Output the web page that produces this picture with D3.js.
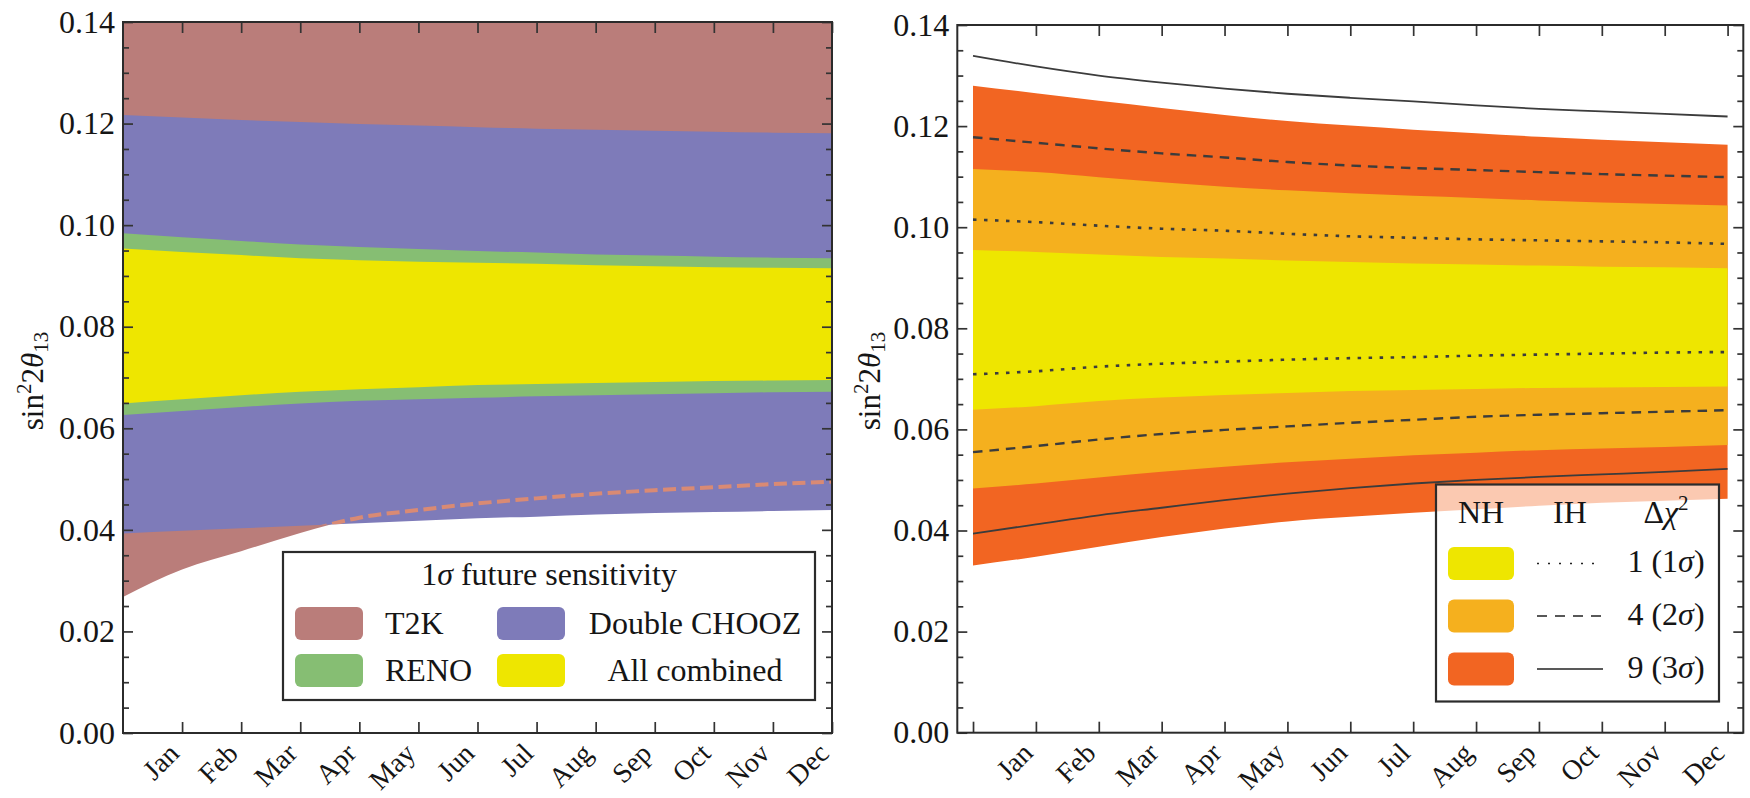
<!DOCTYPE html>
<html>
<head>
<meta charset="utf-8">
<script src="https://cdn.jsdelivr.net/npm/d3@7"></script>
<style>
  body { margin: 0; background: #fff; }
  svg { display: block; font-family: "Liberation Serif", "Times New Roman", serif; }
</style>
</head>
<body>
<svg id="chart" width="1750" height="798"></svg>
<script>
// ---------- data ----------
const monthNames = ["Jan", "Feb", "Mar", "Apr", "May", "Jun", "Jul", "Aug", "Sep", "Oct", "Nov", "Dec"];
const sampleMonths = [0, 1, 2, 3, 4, 5, 6, 7, 8, 9, 10, 11, 12];
const yTickValues = [0, 0.02, 0.04, 0.06, 0.08, 0.10, 0.12, 0.14];

// left panel: 1 sigma future sensitivity bands
const t2kLower  = [0.0268, 0.0322, 0.0358, 0.0394, 0.0424, 0.0439, 0.0452, 0.0462, 0.0471, 0.0478, 0.0484, 0.0490, 0.0495];
const dcUpper   = [0.1217, 0.1212, 0.1207, 0.1203, 0.1199, 0.1196, 0.1193, 0.1190, 0.1188, 0.1186, 0.1184, 0.1182, 0.1181];
const dcLower   = [0.0393, 0.0398, 0.0403, 0.0408, 0.0413, 0.0418, 0.0423, 0.0426, 0.0430, 0.0433, 0.0435, 0.0437, 0.0439];
const renoUpper = [0.0984, 0.0976, 0.0969, 0.0962, 0.0957, 0.0953, 0.0949, 0.0946, 0.0942, 0.0940, 0.0938, 0.0936, 0.0935];
const renoLower = [0.0626, 0.0634, 0.0642, 0.0649, 0.0654, 0.0657, 0.0660, 0.0663, 0.0665, 0.0667, 0.0669, 0.0671, 0.0672];
const combUpper = [0.0954, 0.0947, 0.0941, 0.0935, 0.0931, 0.0928, 0.0926, 0.0924, 0.0921, 0.0919, 0.0917, 0.0916, 0.0915];
const combLower = [0.0649, 0.0657, 0.0665, 0.0672, 0.0677, 0.0681, 0.0685, 0.0687, 0.0689, 0.0691, 0.0693, 0.0694, 0.0695];

// right panel: normal hierarchy bands
const nh1Upper = [0.0955, 0.0951, 0.0946, 0.0941, 0.0938, 0.0934, 0.0931, 0.0928, 0.0926, 0.0924, 0.0922, 0.0921, 0.0919];
const nh1Lower = [0.0639, 0.0646, 0.0656, 0.0663, 0.0668, 0.0672, 0.0676, 0.0678, 0.0680, 0.0682, 0.0683, 0.0684, 0.0685];
const nh2Upper = [0.1115, 0.1109, 0.1099, 0.1089, 0.1080, 0.1073, 0.1067, 0.1062, 0.1058, 0.1053, 0.1049, 0.1046, 0.1043];
const nh2Lower = [0.0483, 0.0493, 0.0505, 0.0516, 0.0526, 0.0535, 0.0542, 0.0549, 0.0554, 0.0559, 0.0562, 0.0565, 0.0569];
const nh3Upper = [0.1280, 0.1265, 0.1250, 0.1236, 0.1222, 0.1210, 0.1201, 0.1193, 0.1186, 0.1179, 0.1173, 0.1168, 0.1163];
const nh3Lower = [0.0331, 0.0348, 0.0368, 0.0387, 0.0404, 0.0418, 0.0427, 0.0435, 0.0442, 0.0449, 0.0455, 0.0459, 0.0463];

// right panel: inverted hierarchy contours
const ih1Upper = [0.1015, 0.1010, 0.1003, 0.0997, 0.0993, 0.0987, 0.0982, 0.0979, 0.0976, 0.0974, 0.0972, 0.0970, 0.0967];
const ih1Lower = [0.0709, 0.0715, 0.0724, 0.0730, 0.0734, 0.0738, 0.0741, 0.0743, 0.0746, 0.0748, 0.0750, 0.0752, 0.0753];
const ih2Upper = [0.1178, 0.1167, 0.1156, 0.1146, 0.1138, 0.1129, 0.1122, 0.1117, 0.1113, 0.1109, 0.1105, 0.1102, 0.1099];
const ih2Lower = [0.0555, 0.0567, 0.0580, 0.0591, 0.0599, 0.0606, 0.0613, 0.0619, 0.0625, 0.0629, 0.0632, 0.0635, 0.0638];
const ih3Upper = [0.1339, 0.1318, 0.1300, 0.1286, 0.1274, 0.1264, 0.1256, 0.1249, 0.1241, 0.1234, 0.1229, 0.1224, 0.1219];
const ih3Lower = [0.0394, 0.0412, 0.0430, 0.0445, 0.0460, 0.0473, 0.0484, 0.0493, 0.0500, 0.0506, 0.0511, 0.0516, 0.0522];

// ---------- styling ----------
const C = {
  t2k: "#ba7d7a", dc: "#7e7bb9", reno: "#86be73", comb: "#eee600",
  nh1: "#eee600", nh2: "#f5b01e", nh3: "#f26522",
  t2kDash: "#d98a74", ih: "#3c3c3c", frame: "#2b2b2b"
};

const svg = d3.select("#chart");

const xL = d3.scaleLinear().domain([0, 12]).range([123, 832]);
const yL = d3.scaleLinear().domain([0, 0.14]).range([733, 22]);
const xR = d3.scaleLinear().domain([-0.25, 12.25]).range([957.3, 1743.3]);
const yR = d3.scaleLinear().domain([0, 0.14]).range([732.7, 25]);

function band(x, y, lower, upper) {
  return d3.area()
    .curve(d3.curveMonotoneX)
    .x((d, i) => x(sampleMonths[i]))
    .y0((d, i) => y(lower[i]))
    .y1((d, i) => y(typeof upper === "number" ? upper : upper[i]))(sampleMonths);
}
function curve(x, y, vals) {
  return d3.line()
    .curve(d3.curveMonotoneX)
    .x((d, i) => x(sampleMonths[i]))
    .y((d, i) => y(vals[i]))(sampleMonths);
}

const defs = svg.append("defs");
function plotClip(id, x, y) {
  defs.append("clipPath").attr("id", id).append("rect")
    .attr("x", x.range()[0]).attr("y", y.range()[1])
    .attr("width", x.range()[1] - x.range()[0])
    .attr("height", y.range()[0] - y.range()[1]);
}
plotClip("clipL", xL, yL);
plotClip("clipR", xR, yR);

// ---------- left panel ----------
const gL = svg.append("g").attr("clip-path", "url(#clipL)");
gL.append("path").attr("d", band(xL, yL, t2kLower, yL.domain()[1])).attr("fill", C.t2k);
gL.append("path").attr("d", band(xL, yL, dcLower, dcUpper)).attr("fill", C.dc);
// T2K lower edge shown dashed where it lies under the Double CHOOZ band
defs.append("clipPath").attr("id", "clipDC").append("path").attr("d", band(xL, yL, dcLower, dcUpper));
gL.append("g").attr("clip-path", "url(#clipDC)")
  .append("path").attr("d", curve(xL, yL, t2kLower))
  .attr("fill", "none").attr("stroke", C.t2kDash).attr("stroke-width", 4)
  .attr("stroke-dasharray", "13,5.5");
gL.append("path").attr("d", band(xL, yL, renoLower, renoUpper)).attr("fill", C.reno);
gL.append("path").attr("d", band(xL, yL, combLower, combUpper)).attr("fill", C.comb);

// ---------- right panel ----------
const gR = svg.append("g").attr("clip-path", "url(#clipR)");
gR.append("path").attr("d", band(xR, yR, nh3Lower, nh3Upper)).attr("fill", C.nh3);
gR.append("path").attr("d", band(xR, yR, nh2Lower, nh2Upper)).attr("fill", C.nh2);
gR.append("path").attr("d", band(xR, yR, nh1Lower, nh1Upper)).attr("fill", C.nh1);

const ihStyles = [
  { vals: [ih1Upper, ih1Lower], dash: "3.5,7.5", w: 2.6 },
  { vals: [ih2Upper, ih2Lower], dash: "9.5,7", w: 2.4 },
  { vals: [ih3Upper, ih3Lower], dash: null, w: 1.8 }
];
ihStyles.forEach(s => s.vals.forEach(v => {
  gR.append("path").attr("d", curve(xR, yR, v))
    .attr("fill", "none").attr("stroke", C.ih).attr("stroke-width", s.w)
    .attr("stroke-dasharray", s.dash);
}));

// ---------- axes and frames ----------
function axes(x, y, bottomTickValues) {
  const [x0, x1] = x.range();
  const [yb, yt] = y.range();
  const minor = d3.range(0.005, 0.14, 0.005).filter(v => Math.abs(v / 0.02 - Math.round(v / 0.02)) > 1e-6);
  const style = g => {
    g.select(".domain").remove();
    g.attr("font-family", null).attr("font-size", null);
    g.selectAll("line").attr("stroke", "#333").attr("stroke-width", 1.7);
    g.selectAll("text").attr("fill", "#151515").style("font-size", "32px");
  };
  svg.append("g").attr("transform", `translate(${x0},0)`)
    .call(d3.axisLeft(y).tickValues(yTickValues).tickSize(-10).tickPadding(8).tickFormat(d3.format(".2f"))).call(style);
  svg.append("g").attr("transform", `translate(${x0},0)`)
    .call(d3.axisLeft(y).tickValues(minor).tickSize(-6).tickFormat("")).call(style);
  svg.append("g").attr("transform", `translate(${x1},0)`)
    .call(d3.axisRight(y).tickValues(yTickValues).tickSize(-10).tickFormat("")).call(style);
  svg.append("g").attr("transform", `translate(${x1},0)`)
    .call(d3.axisRight(y).tickValues(minor).tickSize(-6).tickFormat("")).call(style);
  svg.append("g").attr("transform", `translate(0,${yt})`)
    .call(d3.axisTop(x).tickValues(sampleMonths.slice(1)).tickSize(-11).tickFormat("")).call(style);
  const bx = svg.append("g").attr("transform", `translate(0,${yb})`)
    .call(d3.axisBottom(x).tickValues(bottomTickValues).tickSize(-11)
      .tickFormat(m => monthNames[m - 1] || "")).call(style);
  bx.selectAll("text")
    .attr("x", 0).attr("y", 0).attr("dy", 0)
    .attr("text-anchor", "end")
    .attr("transform", "translate(-2,22) rotate(-45)")
    .style("font-size", "28px");
  svg.append("rect").attr("x", x0).attr("y", yt).attr("width", x1 - x0).attr("height", yb - yt)
    .attr("fill", "none").attr("stroke", C.frame).attr("stroke-width", 2);
}
axes(xL, yL, sampleMonths.slice(1));
axes(xR, yR, sampleMonths);

function yLabel(xPos, yPos) {
  const t = svg.append("text").attr("transform", `translate(${xPos},${yPos}) rotate(-90)`)
    .attr("text-anchor", "middle").attr("fill", "#151515").style("font-size", "31px");
  t.append("tspan").text("sin");
  t.append("tspan").attr("dy", -12).style("font-size", "21px").text("2");
  t.append("tspan").attr("dy", 12).text("2");
  t.append("tspan").style("font-style", "italic").text("θ");
  t.append("tspan").attr("dy", 5).style("font-size", "21px").text("13");
}
yLabel(43, 381);
yLabel(880, 381);

// ---------- legends ----------
const legL = svg.append("g");
legL.append("rect").attr("x", 283).attr("y", 552).attr("width", 532).attr("height", 148)
  .attr("fill", "#fff").attr("fill-opacity", 0.65).attr("stroke", C.frame).attr("stroke-width", 2.2);
const titleL = legL.append("text").attr("x", 549).attr("y", 585).attr("text-anchor", "middle")
  .attr("fill", "#151515").style("font-size", "32px");
titleL.append("tspan").text("1");
titleL.append("tspan").style("font-style", "italic").text("σ");
titleL.append("tspan").text(" future sensitivity");

const legLItems = [
  { name: "T2K", color: C.t2k, sx: 295, sy: 607, tx: 385, anchor: "start", ty: 634 },
  { name: "RENO", color: C.reno, sx: 295, sy: 654, tx: 385, anchor: "start", ty: 681 },
  { name: "Double CHOOZ", color: C.dc, sx: 497, sy: 607, tx: 695, anchor: "middle", ty: 634 },
  { name: "All combined", color: C.comb, sx: 497, sy: 654, tx: 695, anchor: "middle", ty: 681 }
];
legLItems.forEach(d => {
  legL.append("rect").attr("x", d.sx).attr("y", d.sy).attr("width", 68).attr("height", 33)
    .attr("rx", 6).attr("fill", d.color);
  legL.append("text").attr("x", d.tx).attr("y", d.ty).attr("text-anchor", d.anchor)
    .attr("fill", "#151515").style("font-size", "32px").text(d.name);
});

const legR = svg.append("g");
legR.append("rect").attr("x", 1436).attr("y", 484.5).attr("width", 283).attr("height", 217)
  .attr("fill", "#fff").attr("fill-opacity", 0.65).attr("stroke", C.frame).attr("stroke-width", 2.2);
legR.append("text").attr("x", 1481).attr("y", 523).attr("text-anchor", "middle")
  .attr("fill", "#151515").style("font-size", "32px").text("NH");
legR.append("text").attr("x", 1570).attr("y", 523).attr("text-anchor", "middle")
  .attr("fill", "#151515").style("font-size", "32px").text("IH");
const hdr = legR.append("text").attr("x", 1666).attr("y", 523).attr("text-anchor", "middle")
  .attr("fill", "#151515").style("font-size", "32px");
hdr.append("tspan").text("Δ");
hdr.append("tspan").style("font-style", "italic").text("χ");
hdr.append("tspan").attr("dy", -13).style("font-size", "21px").text("2");

const legRItems = [
  { color: C.nh1, dash: "2,9", chi: "1", sig: "1", cy: 563.5 },
  { color: C.nh2, dash: "10,8", chi: "4", sig: "2", cy: 616 },
  { color: C.nh3, dash: null, chi: "9", sig: "3", cy: 669 }
];
legRItems.forEach(d => {
  legR.append("rect").attr("x", 1448).attr("y", d.cy - 16.5).attr("width", 66).attr("height", 33)
    .attr("rx", 6).attr("fill", d.color);
  legR.append("line").attr("x1", 1537).attr("x2", 1603).attr("y1", d.cy).attr("y2", d.cy)
    .attr("stroke", "#222").attr("stroke-width", 1.4).attr("stroke-dasharray", d.dash);
  const t = legR.append("text").attr("x", 1666).attr("y", d.cy + 8.5).attr("text-anchor", "middle")
    .attr("fill", "#151515").style("font-size", "32px");
  t.append("tspan").text(`${d.chi} (${d.sig}`);
  t.append("tspan").style("font-style", "italic").text("σ");
  t.append("tspan").text(")");
});
</script>
</body>
</html>
